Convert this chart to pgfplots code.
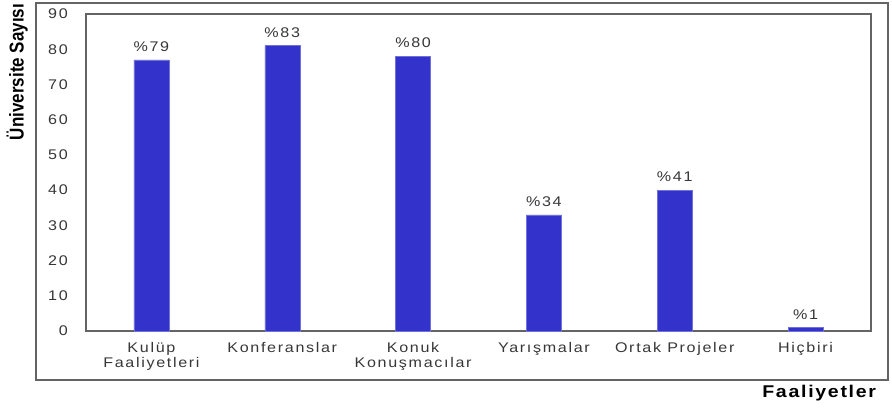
\documentclass[border=0pt]{standalone}
\usepackage{pgfplots}
\pgfplotsset{compat=1.18}
\usepackage{fontspec}
\setmainfont{Liberation Sans}
\newfontfamily\lbl{Liberation Sans}[FakeStretch=1.15,LetterSpace=12]
\newfontfamily\ylbl{Liberation Sans}[FakeStretch=0.85]
\newfontfamily\xlbl{Liberation Sans}[FakeStretch=1.15,LetterSpace=10]
\definecolor{barblue}{RGB}{51,51,204}
\definecolor{txtgray}{RGB}{55,55,55}
\definecolor{framegray}{RGB}{100,100,100}
\begin{document}
\begin{tikzpicture}[x=1bp,y=1bp]
\path[use as bounding box] (0,0) rectangle (892,408);
\begin{axis}[
  at={(86bp,77bp)}, anchor=south west,
  scale only axis, width=785bp, height=317bp,
  clip=false,
  xmin=-0.5, xmax=5.5, ymin=0, ymax=90,
  ytick={0,10,...,90},
  xtick={0,1,2,3,4,5},
  xticklabels={{Kulüp\\Faaliyetleri},Konferanslar,{Konuk\\Konuşmacılar},Yarışmalar,Ortak Projeler,Hiçbiri},
  major tick length=0pt,
  axis line style={framegray, line width=1.2bp},
  /pgf/number format/assume math mode=true,
  yticklabel style={font=\lbl\fontsize{14bp}{16bp}\selectfont, text=txtgray, anchor=east, inner sep=0pt, xshift=-18bp},
  xticklabel style={font=\lbl\fontsize{14bp}{15.5bp}\selectfont, text=txtgray, align=center, anchor=north, inner sep=0pt, yshift=-11bp},
  ylabel={Üniversite Sayısı},
  ylabel style={font=\ylbl\bfseries\fontsize{20bp}{20bp}\selectfont, at={(axis description cs:-0.0878,0.817)}, anchor=center, rotate=0},
  xlabel={Faaliyetler},
  xlabel style={font=\xlbl\bfseries\fontsize{17bp}{18bp}\selectfont, at={(axis description cs:0.934,-0.196)}, anchor=center},
  ybar, bar width=35bp,
  nodes near coords, point meta=explicit symbolic,
  nodes near coords style={font=\lbl\fontsize{14bp}{15bp}\selectfont, text=txtgray, anchor=south, inner sep=0pt, yshift=8bp},
]
\addplot[fill=barblue, draw=barblue!70!white, line width=0.5bp] coordinates {
  (0,77) [\%79]
  (1,81) [\%83]
  (2,78) [\%80]
  (3,33) [\%34]
  (4,40) [\%41]
  (5,1) [\%1]
};
\draw[framegray, line width=1.6bp] (axis description cs:-0.0637,-0.1546) rectangle (axis description cs:1.0216,1.035);
\end{axis}
\end{tikzpicture}
\end{document}
